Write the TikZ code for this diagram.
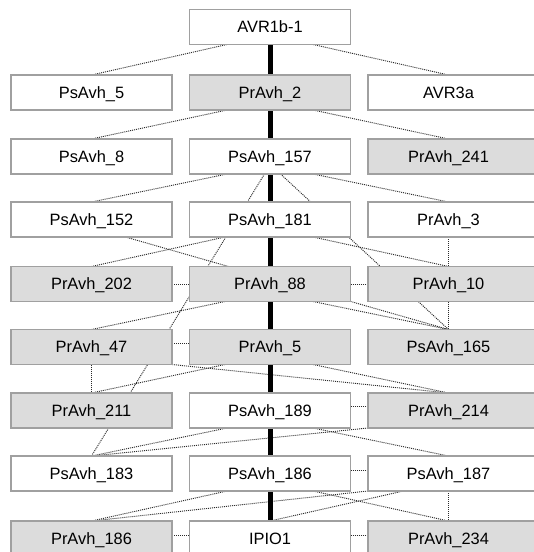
\documentclass[tikz,border=0pt]{standalone}
\usepackage{fontspec}
\setmainfont{Liberation Sans}
\usetikzlibrary{calc}
\pgfdeclarelayer{edges}
\pgfdeclarelayer{boxes}
\pgfsetlayers{edges,boxes,main}
\definecolor{boxgray}{HTML}{DCDCDC}
\definecolor{boxline}{HTML}{A0A0A0}
\definecolor{dotcol}{HTML}{2A2A2A}
\begin{document}
\begin{tikzpicture}[x=0.75pt,y=-0.75pt,
  lbl/.style={minimum width=120.75pt, minimum height=26.25pt, inner sep=0pt, outer sep=0pt,
    text height=8.8pt, text depth=0pt, font=\fontsize{12.3}{14}\selectfont},
  frame/.style={draw=boxline, line width=0.9pt},
  link/.style={draw=dotcol, line width=0.7pt, dash pattern=on 0.75pt off 0.75pt},
  spine/.style={draw=black, line width=3.75pt}]
\useasboundingbox (0,0) rectangle (534,552);
\clip (0,0) rectangle (534,552);
% row 0
\node[lbl] (avr1b) at (270,27) {AVR1b-1};
% row 1
\node[lbl] (ps5)   at (91.5,92.5) {PsAvh\_5};
\node[lbl] (pr2)   at (270,92.5) {PrAvh\_2};
\node[lbl] (avr3a) at (448.5,92.5) {AVR3a};
% row 2
\node[lbl] (ps8)   at (91.5,156.5) {PsAvh\_8};
\node[lbl] (ps157) at (270,156.5) {PsAvh\_157};
\node[lbl] (pr241) at (448.5,156.5) {PrAvh\_241};
% row 3
\node[lbl] (ps152) at (91.5,219.5) {PsAvh\_152};
\node[lbl] (ps181) at (270,219.5) {PsAvh\_181};
\node[lbl] (pr3)   at (448.5,219.5) {PrAvh\_3};
% row 4
\node[lbl] (pr202) at (91.5,284) {PrAvh\_202};
\node[lbl] (pr88)  at (270,284) {PrAvh\_88};
\node[lbl] (pr10)  at (448.5,284) {PrAvh\_10};
% row 5
\node[lbl] (pr47)  at (91.5,347) {PrAvh\_47};
\node[lbl] (pr5)   at (270,347) {PrAvh\_5};
\node[lbl] (ps165) at (448.5,347) {PsAvh\_165};
% row 6
\node[lbl] (pr211) at (91.5,410.5) {PrAvh\_211};
\node[lbl] (ps189) at (270,410.5) {PsAvh\_189};
\node[lbl] (pr214) at (448.5,410.5) {PrAvh\_214};
% row 7
\node[lbl] (ps183) at (91.5,473.5) {PsAvh\_183};
\node[lbl] (ps186) at (270,473.5) {PsAvh\_186};
\node[lbl] (ps187) at (448.5,473.5) {PsAvh\_187};
% row 8
\node[lbl] (pr186) at (91.5,538.5) {PrAvh\_186};
\node[lbl] (ipio)  at (270,538.5) {IPIO1};
\node[lbl] (pr234) at (448.5,538.5) {PrAvh\_234};

\begin{pgfonlayer}{boxes}
\foreach \n/\c in {avr1b/white, ps5/white, pr2/boxgray, ps8/white, ps157/white,
  ps152/white, ps181/white, pr202/boxgray, pr88/boxgray, pr47/boxgray, pr5/boxgray,
  pr211/boxgray, ps189/white, ps183/white, ps186/white, pr186/boxgray, ipio/white}
  \filldraw[frame, fill=\c] (\n.north west) rectangle (\n.south east);
\foreach \n/\c in {avr3a/white, pr241/boxgray, pr3/white, pr10/boxgray, ps165/boxgray,
  pr214/boxgray, ps187/white, pr234/boxgray}
  \filldraw[frame, fill=\c] (\n.north west) rectangle ($(\n.south east)+(30,0)$);
\end{pgfonlayer}

\begin{pgfonlayer}{edges}
% rows 0-1
\draw[link] ($(avr1b.south)+(-43,0)$) -- (ps5.north);
\draw[link] ($(avr1b.south)+(43,0)$) -- (avr3a.north);
% rows 1-2
\draw[link] ($(pr2.south)+(-43,0)$) -- (ps8.north);
\draw[link] ($(pr2.south)+(43,0)$) -- (pr241.north);
% rows 2-3
\draw[link] ($(ps157.south)+(-43,0)$) -- (ps152.north);
\draw[link] ($(ps157.south)+(43,0)$) -- (pr3.north);
\draw[link] ($(ps157.south)+(-5.5,0)$) -- (ps183.north);
\draw[link] ($(ps157.south)+(10.5,0)$) -- (ps165.north);
% rows 3-4
\draw[link] ($(ps181.south)+(-45,0)$) -- (pr202.north);
\draw[link] ($(ps181.south)+(43,0)$) -- (pr10.north);
\draw[link] ($(ps152.south)+(34,0)$) -- (ps165.north);
\draw[link] (pr3.south) -- (pr10.north);
\draw[link] (pr202.east) -- (pr88.west);
\draw[link] (pr88.east) -- (pr10.west);
% rows 4-5
\draw[link] ($(pr88.south)+(-45,0)$) -- (pr47.north);
\draw[link] ($(pr88.south)+(43,0)$) -- (ps165.north);
\draw[link] (pr10.south) -- (ps165.north);
\draw[link] ($(pr47.east)+(0,-4)$) -- ($(pr5.west)+(0,-4)$);
% rows 5-6
\draw[link] (pr47.south) -- (pr211.north);
\draw[link] ($(pr5.south)+(-45,0)$) -- (pr211.north);
\draw[link] (pr47.south east) -- (pr214.north);
\draw[link] ($(pr5.south)+(43,0)$) -- (pr214.north);
\draw[link] ($(ps189.east)+(0,-4)$) -- ($(pr214.west)+(0,-4)$);
% rows 6-7
\draw[link] ($(ps189.south)+(-43,0)$) -- (ps183.north);
\draw[link] (pr214.south west) -- (ps183.north);
\draw[link] ($(ps189.south)+(43,0)$) -- (ps187.north);
\draw[link] ($(ps186.east)+(0,-3)$) -- ($(ps187.west)+(0,-3)$);
% rows 7-8
\draw[link] ($(ps186.south)+(-43,0)$) -- (pr186.north);
\draw[link] (ps187.south west) -- (pr186.north);
\draw[link] ($(ps186.south)+(43,0)$) -- (pr234.north);
\draw[link] ($(ps187.south)+(-45,0)$) -- (ipio.north);
\draw[link] (ps187.south) -- (pr234.north);
\draw[link] ($(pr186.east)+(0,-3)$) -- ($(ipio.west)+(0,-3)$);
\draw[link] ($(ipio.east)+(0,-3)$) -- ($(pr234.west)+(0,-3)$);
% main spine
\draw[spine] (avr1b) -- (ipio);
\end{pgfonlayer}
\end{tikzpicture}
\end{document}
